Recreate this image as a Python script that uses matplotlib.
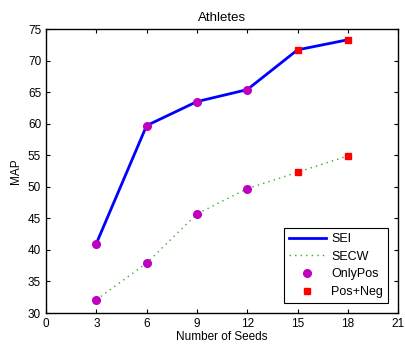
import numpy as np
import matplotlib
matplotlib.use('Agg')
import matplotlib.pyplot as plt

plt.rcParams['font.family'] = ['Liberation Sans', 'DejaVu Sans']

seeds = [3, 6, 9, 12, 15, 18]
sei = [41.0, 59.7, 63.5, 65.4, 71.7, 73.3]
secw = [32.1, 37.9, 45.7, 49.7, 52.3, 54.9]
n_pos = 4  # first points are OnlyPos, rest Pos+Neg

xticks = np.arange(0, 22, 3)
yticks = np.arange(30, 76, 5)

fig = plt.figure(figsize=(4.05, 3.5), dpi=100)
ax = fig.add_axes([0.1136, 0.1057, 0.8694, 0.8113])

ax.plot(seeds, sei, c='b', lw=2, label='SEI')
ax.plot(seeds, secw, c='#33aa33', ls=(0, (1, 3)), lw=1, label='SECW')
ax.plot(seeds[:n_pos], sei[:n_pos], 'o', c='m', ms=5.5, mec='m', label='OnlyPos')
ax.plot(seeds[:n_pos], secw[:n_pos], 'o', c='m', ms=5.5, mec='m')
ax.plot(seeds[n_pos:], sei[n_pos:], 's', c='r', ms=4.5, mec='r', label='Pos+Neg')
ax.plot(seeds[n_pos:], secw[n_pos:], 's', c='r', ms=4.5, mec='r')

ax.set_xlim(0, 21)
ax.set_ylim(30, 75)
ax.set_xticks(xticks)
ax.set_yticks(yticks)
ax.tick_params(direction='in', top=True, right=True, labelsize=8.5, length=3)
for s in ax.spines.values():
    s.set_linewidth(1)
ax.set_title('Athletes', fontsize=9.5)
ax.set_xlabel('Number of Seeds', fontsize=8.5, labelpad=1)
ax.set_ylabel('MAP', fontsize=8.5)

leg = ax.legend(loc='lower right', fontsize=9, fancybox=False, framealpha=1,
                edgecolor='k', borderaxespad=0.8, handlelength=3.0, numpoints=1,
                labelspacing=0.45, handletextpad=0.4)
leg.get_frame().set_linewidth(0.8)

plt.savefig('out.png', dpi=100)
